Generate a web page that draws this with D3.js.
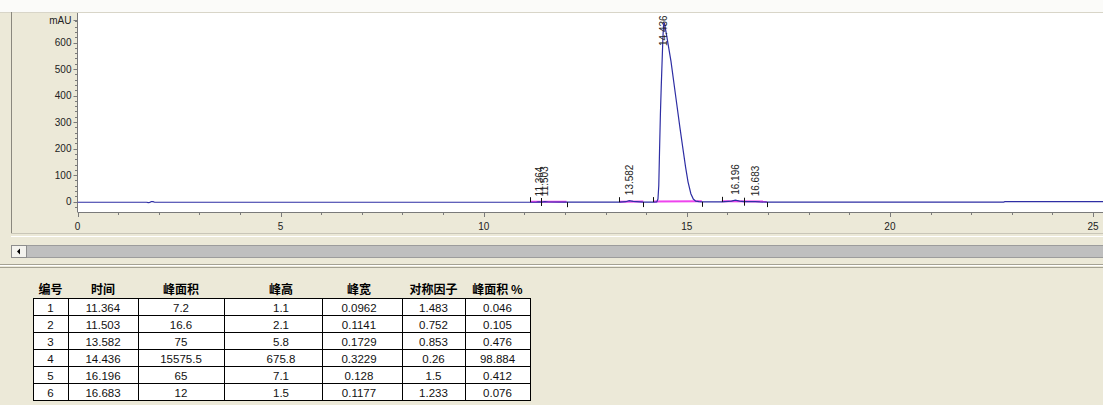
<!DOCTYPE html>
<html><head><meta charset="utf-8">
<script src="https://cdn.jsdelivr.net/npm/d3@7"></script>
<style>
html,body{margin:0;padding:0;background:#ECE9D8;}
svg{display:block;}
</style></head>
<body>
<svg id="c" width="1103" height="405"></svg>
<script>
// ---------- DATA ----------
// chromatogram trace: [time (min), signal (mAU)]
const traceTime = [0, 1.70, 1.74, 1.78, 1.82, 1.86, 1.90, 11.14, 11.30, 11.364, 11.43, 11.503, 11.60, 12.04,
  13.34, 13.50, 13.582, 13.68, 13.93, 14.18, 14.26, 14.29, 14.31, 14.33, 14.35, 14.37, 14.39, 14.41, 14.425, 14.436,
  14.45, 14.50, 14.61, 14.72, 14.83, 14.90, 14.97, 15.03, 15.10, 15.16, 15.22, 15.30, 15.37, 15.86, 16.10, 16.196,
  16.30, 16.41, 16.55, 16.683, 16.80, 16.97, 22.80, 22.83, 25.30];
const traceSignal = [-2, -2, -3.5, -2.5, 0.5, 0, -2, -2, -1.5, -0.9, -1.3, 0.2, -1.2, -1.8,
  -1.8, 0, 3.8, 1, -1.5, -1.5, -1, 10, 60, 200, 330, 430, 520, 610, 660, 674,
  672, 630, 530, 405, 280, 205, 130, 75, 30, 10, 2, 0, -0.5, -0.5, 2, 5.6,
  2, 0, 0.3, 0, -1, -1.5, -1.5, 0, 0];
// integration baselines: [start, (split), end] times
const baselineRuns = [[11.14, 11.41, 12.04], [13.34, 13.93], [14.18, 15.37], [15.86, 16.41, 16.97]];
// peak table
const peakNo = [1, 2, 3, 4, 5, 6];
const peakTime = ["11.364", "11.503", "13.582", "14.436", "16.196", "16.683"];
const peakArea = ["7.2", "16.6", "75", "15575.5", "65", "12"];
const peakHeight = ["1.1", "2.1", "5.8", "675.8", "7.1", "1.5"];
const peakWidth = ["0.0962", "0.1141", "0.1729", "0.3229", "0.128", "0.1177"];
const symmetry = ["1.483", "0.752", "0.853", "0.26", "1.5", "1.233"];
const areaPct = ["0.046", "0.105", "0.476", "98.884", "0.412", "0.076"];
const headers = ["编号", "时间", "峰面积", "峰高", "峰宽", "对称因子", "峰面积 %"];
const xTicks = [0, 5, 10, 15, 20, 25];
const yTicks = [0, 100, 200, 300, 400, 500, 600];

// ---------- LAYOUT ----------
const svg = d3.select("#c");
const W = 1103;
const plot = {left: 77.5, top: 13, bottom: 212};
const x = d3.scaleLinear().domain([0, 25]).range([77.5, 1093]);
const y = d3.scaleLinear().domain([0, 600]).range([201.7, 42.5]);

// top white strip + panel
svg.append("rect").attr("x", 0).attr("y", 0).attr("width", W).attr("height", 12).attr("fill", "#fbfbf9");
svg.append("line").attr("x1", 0).attr("x2", W).attr("y1", 12.5).attr("y2", 12.5).attr("stroke", "#d8d5c8");
svg.append("line").attr("x1", 11.5).attr("x2", 11.5).attr("y1", 12).attr("y2", 233).attr("stroke", "#8a887e");
// plot area
svg.append("rect").attr("x", plot.left).attr("y", plot.top).attr("width", W - plot.left).attr("height", plot.bottom - plot.top).attr("fill", "#ffffff");

const defs = svg.append("defs");
defs.append("clipPath").attr("id", "clip").append("rect")
  .attr("x", plot.left).attr("y", plot.top).attr("width", W - plot.left).attr("height", plot.bottom - plot.top);

// axes
const axFont = "'Liberation Sans', Arial, sans-serif";
const yAxis = svg.append("g").attr("transform", `translate(${plot.left},0)`);
yAxis.append("line").attr("y1", plot.top).attr("y2", plot.bottom).attr("stroke", "#7a7a7a");
const yMinor = d3.range(-20, 700, 20);
yAxis.selectAll("line.mn").data(yMinor).join("line").attr("class", "mn")
  .attr("x1", d => d % 100 === 0 ? -4 : -2.5).attr("x2", 0)
  .attr("y1", d => Math.round(y(d)) + 0.5).attr("y2", d => Math.round(y(d)) + 0.5)
  .attr("stroke", "#7a7a7a");
yAxis.selectAll("text.lb").data(yTicks).join("text").attr("class", "lb")
  .attr("x", -6).attr("y", d => y(d)).attr("dy", "0.35em").attr("text-anchor", "end")
  .attr("font-family", axFont).attr("font-size", 10).attr("fill", "#222")
  .text(d => d);
yAxis.append("text").attr("x", -6).attr("y", 20).attr("dy", "0.35em").attr("text-anchor", "end")
  .attr("font-family", axFont).attr("font-size", 10).attr("fill", "#222").text("mAU");
yAxis.append("line").attr("x1", -4).attr("x2", 0).attr("y1", 20.5).attr("y2", 20.5).attr("stroke", "#7a7a7a");

const xAxis = svg.append("g").attr("transform", `translate(0,${plot.bottom})`);
xAxis.append("line").attr("x1", plot.left).attr("x2", W).attr("stroke", "#7a7a7a").attr("y1", 0.5).attr("y2", 0.5);
xAxis.selectAll("line.mn").data(d3.range(0, 26, 1)).join("line").attr("class", "mn")
  .attr("x1", d => Math.round(x(d)) + 0.5).attr("x2", d => Math.round(x(d)) + 0.5)
  .attr("y1", 0).attr("y2", d => d % 5 === 0 ? 5 : 3).attr("stroke", "#7a7a7a");
xAxis.selectAll("text").data(xTicks).join("text")
  .attr("x", d => x(d)).attr("y", 14.5).attr("dy", "0.35em").attr("text-anchor", "middle")
  .attr("font-family", axFont).attr("font-size", 10).attr("fill", "#222").text(d => d);

// chart contents
const g = svg.append("g").attr("clip-path", "url(#clip)");
const baseY = t => {
  const i = d3.bisectLeft(traceTime, t);
  const i0 = Math.max(0, i - 1);
  const t0 = traceTime[i0], t1 = traceTime[Math.min(i, traceTime.length - 1)];
  const v0 = traceSignal[i0], v1 = traceSignal[Math.min(i, traceTime.length - 1)];
  return t1 === t0 ? v0 : v0 + (v1 - v0) * (t - t0) / (t1 - t0);
};
// magenta baselines
baselineRuns.forEach(run => {
  const a = run[0], b = run[run.length - 1];
  g.append("line").attr("x1", x(a)).attr("x2", x(b))
    .attr("y1", y(baseY(a)) - 0.5).attr("y2", y(baseY(b)) - 0.5)
    .attr("stroke", "#ee44ee").attr("stroke-width", 2);
});
// trace
const pts = traceTime.map((t, i) => [t, traceSignal[i]]);
g.append("path").datum(pts)
  .attr("d", d3.line().x(d => x(d[0])).y(d => y(d[1])))
  .attr("fill", "none").attr("stroke", "#2e2ea4").attr("stroke-width", 1.2);
// baseline markers
baselineRuns.forEach(run => {
  run.forEach((t, k) => {
    const yy = y(baseY(t));
    const xx = Math.round(x(t)) + 0.5;
    let y1, y2;
    if (k === 0) { y1 = yy - 5; y2 = yy; }
    else if (k === run.length - 1) { y1 = yy; y2 = yy + 5; }
    else { y1 = yy - 4; y2 = yy + 4; }
    g.append("line").attr("x1", xx).attr("x2", xx).attr("y1", y1).attr("y2", y2)
      .attr("stroke", "#111").attr("stroke-width", 1);
  });
});
// peak labels
peakTime.forEach((t, i) => {
  const tx = x(+t);
  const ty = Math.max(y(+peakHeight[i]) - 5, plot.top + 33);
  svg.append("text").attr("transform", `translate(${tx + 3.5},${ty}) rotate(-90)`)
    .attr("font-family", axFont).attr("font-size", 10).attr("fill", "#222").text(t);
});

// panel bottom edge
svg.append("line").attr("x1", 11).attr("x2", W).attr("y1", 233.5).attr("y2", 233.5).attr("stroke", "#c9c6b8");
svg.append("line").attr("x1", 11).attr("x2", W).attr("y1", 236.5).attr("y2", 236.5).attr("stroke", "#ffffff");

// scrollbar
svg.append("rect").attr("x", 11.5).attr("y", 245.5).attr("width", W - 11).attr("height", 12).attr("fill", "#bfbfbf").attr("stroke", "#9c9c9c");
svg.append("rect").attr("x", 11.5).attr("y", 245.5).attr("width", 15).attr("height", 12).attr("fill", "#f4f3ee").attr("stroke", "#8d8d8d");
svg.append("path").attr("d", "M17,251.5 L20,248.5 L20,254.5 Z").attr("fill", "#000");

// separator
svg.append("line").attr("x1", 0).attr("x2", W).attr("y1", 264.5).attr("y2", 264.5).attr("stroke", "#a5a293");
svg.append("line").attr("x1", 0).attr("x2", W).attr("y1", 267.5).attr("y2", 267.5).attr("stroke", "#a5a293");
svg.append("line").attr("x1", 0).attr("x2", W).attr("y1", 265.5).attr("y2", 265.5).attr("stroke", "#ffffff");

// table
const colEdges = [33, 68, 138, 224, 322, 402, 465, 530];
const colCenters = [50.5, 103, 181, 281, 359, 433.5, 497.5];
const rowTop = 298, rowH = 17;
const cols = [peakNo, peakTime, peakArea, peakHeight, peakWidth, symmetry, areaPct];
const tg = svg.append("g");
tg.append("rect").attr("x", colEdges[0] + 0.5).attr("y", rowTop + 0.5)
  .attr("width", colEdges[7] - colEdges[0]).attr("height", rowH * 6)
  .attr("fill", "#fff").attr("stroke", "#000");
colEdges.slice(1, -1).forEach(cx => {
  tg.append("line").attr("x1", cx + 0.5).attr("x2", cx + 0.5).attr("y1", rowTop).attr("y2", rowTop + rowH * 6).attr("stroke", "#000");
});
d3.range(1, 6).forEach(r => {
  tg.append("line").attr("x1", colEdges[0]).attr("x2", colEdges[7]).attr("y1", rowTop + r * rowH + 0.5).attr("y2", rowTop + r * rowH + 0.5).attr("stroke", "#000");
});
headers.forEach((h, c) => {
  tg.append("text").attr("x", colCenters[c]).attr("y", 290).attr("dy", "0.35em")
    .attr("text-anchor", "middle").attr("font-family", "'Noto Sans CJK SC', sans-serif")
    .attr("font-weight", "bold").attr("font-size", 12).attr("fill", "#000").text(h);
});
cols.forEach((col, c) => {
  col.forEach((v, r) => {
    tg.append("text").attr("x", colCenters[c]).attr("y", rowTop + r * rowH + rowH / 2 + 1)
      .attr("dy", "0.35em").attr("text-anchor", "middle")
      .attr("font-family", axFont).attr("font-size", 11.5).attr("fill", "#111").text(v);
  });
});
</script>
</body></html>
